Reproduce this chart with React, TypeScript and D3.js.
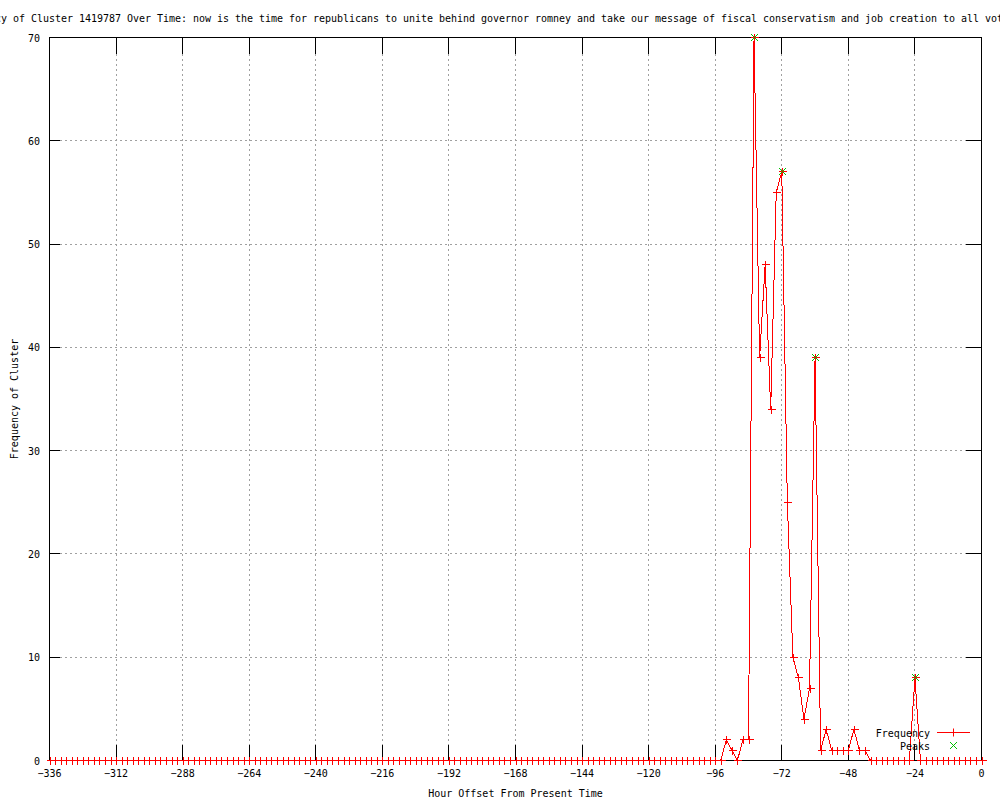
import React from "react";
import * as d3 from "d3";

const TITLE =
  "Frequency of Cluster 1419787 Over Time: now is the time for republicans to unite behind governor romney and take our message of fiscal conservatism and job creation to all voters";
const X_LABEL = "Hour Offset From Present Time";
const Y_LABEL = "Frequency of Cluster";

const hours: number[] = d3.range(-336, 1, 2);
const frequency: number[] = [
  // -336 .. -94 (122 points)
  0, 0, 0, 0, 0, 0, 0, 0, 0, 0, 0, 0, 0, 0, 0, 0, 0, 0, 0, 0,
  0, 0, 0, 0, 0, 0, 0, 0, 0, 0, 0, 0, 0, 0, 0, 0, 0, 0, 0, 0,
  0, 0, 0, 0, 0, 0, 0, 0, 0, 0, 0, 0, 0, 0, 0, 0, 0, 0, 0, 0,
  0, 0, 0, 0, 0, 0, 0, 0, 0, 0, 0, 0, 0, 0, 0, 0, 0, 0, 0, 0,
  0, 0, 0, 0, 0, 0, 0, 0, 0, 0, 0, 0, 0, 0, 0, 0, 0, 0, 0, 0,
  0, 0, 0, 0, 0, 0, 0, 0, 0, 0, 0, 0, 0, 0, 0, 0, 0, 0, 0, 0,
  0, 0,
  // -92 .. -42
  2, 1, 0, 2, 2, 70, 39, 48, 34, 55, 57, 25, 10, 8, 4, 7, 39, 1, 3, 1, 1, 1, 1, 3, 1, 1,
  // -40 .. 0
  0, 0, 0, 0, 0, 0, 0, 0, 8, 0, 0, 0, 0, 0, 0, 0, 0, 0, 0, 0, 0,
];
const peakHours: number[] = [-82, -72, -60, -24];
const peakValues: number[] = [70, 57, 39, 8];

const xTicks: number[] = [-336, -312, -288, -264, -240, -216, -192, -168, -144, -120, -96, -72, -48, -24, 0];
const yTicks: number[] = [0, 10, 20, 30, 40, 50, 60, 70];

const FONT = "'DejaVu Sans Mono', monospace";
const RED = "#ff0000";
const GREEN = "#00c000";

export default function App() {
  const L = 49.5, R = 981.5, T = 37.5, B = 760.5;
  const x = d3.scaleLinear().domain([-336, 0]).range([L, R]);
  const y = d3.scaleLinear().domain([0, 70]).range([B, T]);
  const pts: [number, number][] = hours.map((h, i) => [h, frequency[i]]);
  const line = d3
    .line<[number, number]>()
    .x((d) => x(d[0]))
    .y((d) => y(d[1]));

  const plus = (cx: number, cy: number, key: string, color: string) => (
    <path key={key} d={`M${cx - 4},${cy}H${cx + 4}M${cx},${cy - 4}V${cy + 4}`} stroke={color} strokeWidth={1} fill="none" />
  );
  const cross = (cx: number, cy: number, key: string) => (
    <path key={key} d={`M${cx - 3.5},${cy - 3.5}L${cx + 3.5},${cy + 3.5}M${cx - 3.5},${cy + 3.5}L${cx + 3.5},${cy - 3.5}`} stroke={GREEN} strokeWidth={1} fill="none" />
  );

  return (
    <svg
      width={1000}
      height={800}
      style={{ position: "absolute", left: 0, top: 0, background: "#fff" }}
      fontFamily={FONT}
      fontSize={10}
    >
      <rect x={0} y={0} width={1000} height={800} fill="#fff" />
      {/* grid */}
      <g stroke="#a0a0a0" strokeWidth={1} strokeDasharray="2,3" shapeRendering="crispEdges">
        {xTicks.slice(1, -1).map((t) => (
          <line key={"gx" + t} x1={x(t)} x2={x(t)} y1={T + 16} y2={B - 16} />
        ))}
        {yTicks.slice(1, -1).map((t) => (
          <line key={"gy" + t} x1={L + 10} x2={R - 16} y1={y(t)} y2={y(t)} />
        ))}
      </g>
      {/* border and ticks */}
      <g stroke="#000" strokeWidth={1} shapeRendering="crispEdges" fill="none">
        <rect x={L} y={T} width={R - L} height={B - T} />
        {xTicks.map((t) => (
          <g key={"tx" + t}>
            <line x1={x(t)} x2={x(t)} y1={B} y2={B - 16} />
            <line x1={x(t)} x2={x(t)} y1={T} y2={T + 16} />
          </g>
        ))}
        {yTicks.map((t) => (
          <g key={"ty" + t}>
            <line x1={L} x2={L + 10} y1={y(t)} y2={y(t)} />
            <line x1={R} x2={R - 16} y1={y(t)} y2={y(t)} />
          </g>
        ))}
      </g>
      {/* tick labels */}
      <g fill="#000">
        {xTicks.map((t) => (
          <text key={"lx" + t} x={x(t)} y={777} textAnchor="middle">
            {String(t).replace("-", "\u2212")}
          </text>
        ))}
        {yTicks.map((t) => (
          <text key={"ly" + t} x={40} y={y(t) + 4} textAnchor="end">
            {t}
          </text>
        ))}
      </g>
      {/* titles */}
      <text x={-47} y={22} fill="#000" textLength={1068} lengthAdjust="spacing">
        {TITLE}
      </text>
      <text x={(L + R) / 2} y={797} textAnchor="middle" fill="#000">
        {X_LABEL}
      </text>
      <text transform={`translate(18,${(T + B) / 2}) rotate(-90)`} textAnchor="middle" fill="#000">
        {Y_LABEL}
      </text>
      {/* data */}
      <path d={line(pts) || ""} stroke={RED} strokeWidth={1} fill="none" shapeRendering="crispEdges" />
      <g shapeRendering="crispEdges">
        {pts.map((d, i) => plus(Math.round(x(d[0])) + 0.5, Math.round(y(d[1]) - 0.5) + 0.5, "p" + i, RED))}
      </g>
      <g>
        {peakHours.map((h, i) => cross(Math.round(x(h)) + 0.5, Math.round(y(peakValues[i]) - 0.5) + 0.5, "k" + i))}
      </g>
      {/* legend */}
      <text x={930} y={737} textAnchor="end" fill="#000">Frequency</text>
      <line x1={937} x2={970} y1={732.5} y2={732.5} stroke={RED} shapeRendering="crispEdges" />
      {plus(953.5, 732.5, "legp", RED)}
      <text x={930} y={750} textAnchor="end" fill="#000">Peaks</text>
      {cross(953.5, 745.5, "legk")}
    </svg>
  );
}
